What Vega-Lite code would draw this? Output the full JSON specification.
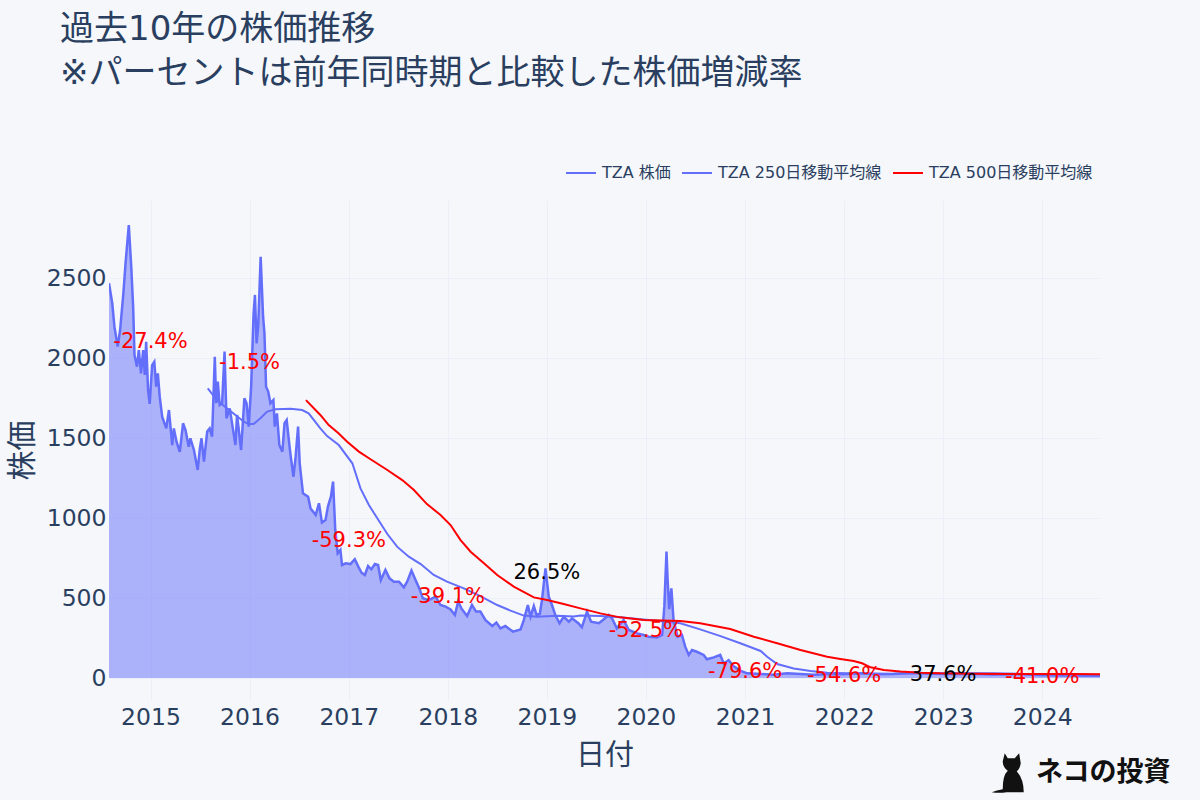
{"$schema":"https://vega.github.io/schema/vega-lite/v6.json","width":991,"height":500,"autosize":{"type":"none"},"padding":{"left":109,"top":200,"right":100,"bottom":100},"background":"#f5f7fb","config":{"view":{"stroke":null},"font":"DejaVu Sans, Noto Sans CJK JP"},
"title":{"text":["過去10年の株価推移","※パーセントは前年同時期と比較した株価増減率"],"anchor":"start","frame":"group","dx":-49,"offset":66,"fontSize":34,"lineHeight":44,"color":"#2a3f5f","fontWeight":"normal","font":"DejaVu Sans, Noto Sans CJK JP"},
"datasets":{
"price":[{"date":"2014-08-01","price":2467},{"date":"2014-08-13","price":2342},{"date":"2014-08-21","price":2196},{"date":"2014-09-02","price":2071},{"date":"2014-09-11","price":2175},{"date":"2014-09-23","price":2404},{"date":"2014-10-01","price":2592},{"date":"2014-10-13","price":2831},{"date":"2014-10-22","price":2571},{"date":"2014-10-29","price":2321},{"date":"2014-11-03","price":2019},{"date":"2014-11-12","price":1946},{"date":"2014-11-19","price":2050},{"date":"2014-11-27","price":1904},{"date":"2014-12-05","price":2050},{"date":"2014-12-11","price":1894},{"date":"2014-12-16","price":2102},{"date":"2014-12-23","price":1800},{"date":"2014-12-29","price":1713},{"date":"2015-01-07","price":1956},{"date":"2015-01-15","price":1977},{"date":"2015-01-22","price":1821},{"date":"2015-01-28","price":1904},{"date":"2015-02-04","price":1758},{"date":"2015-02-13","price":1633},{"date":"2015-02-28","price":1560},{"date":"2015-03-10","price":1675},{"date":"2015-03-22","price":1456},{"date":"2015-03-28","price":1560},{"date":"2015-04-07","price":1477},{"date":"2015-04-19","price":1414},{"date":"2015-05-01","price":1592},{"date":"2015-05-10","price":1550},{"date":"2015-05-22","price":1446},{"date":"2015-05-28","price":1498},{"date":"2015-06-10","price":1425},{"date":"2015-06-24","price":1300},{"date":"2015-07-02","price":1435},{"date":"2015-07-08","price":1498},{"date":"2015-07-17","price":1352},{"date":"2015-07-29","price":1540},{"date":"2015-08-07","price":1560},{"date":"2015-08-16","price":1508},{"date":"2015-08-26","price":2008},{"date":"2015-08-31","price":1717},{"date":"2015-09-06","price":1852},{"date":"2015-09-13","price":1706},{"date":"2015-09-22","price":1717},{"date":"2015-10-01","price":2040},{"date":"2015-10-08","price":1623},{"date":"2015-10-20","price":1685},{"date":"2015-11-10","price":1456},{"date":"2015-11-16","price":1644},{"date":"2015-12-01","price":1425},{"date":"2015-12-13","price":1748},{"date":"2015-12-21","price":1717},{"date":"2015-12-29","price":1571},{"date":"2016-01-07","price":1821},{"date":"2016-01-16","price":2279},{"date":"2016-01-21","price":2394},{"date":"2016-01-27","price":2092},{"date":"2016-02-02","price":2200},{"date":"2016-02-11","price":2633},{"date":"2016-02-20","price":2258},{"date":"2016-02-25","price":2154},{"date":"2016-03-02","price":1821},{"date":"2016-03-10","price":1790},{"date":"2016-03-18","price":1717},{"date":"2016-03-29","price":1737},{"date":"2016-04-03","price":1571},{"date":"2016-04-11","price":1654},{"date":"2016-04-20","price":1456},{"date":"2016-05-01","price":1414},{"date":"2016-05-09","price":1592},{"date":"2016-05-17","price":1612},{"date":"2016-05-27","price":1456},{"date":"2016-06-01","price":1383},{"date":"2016-06-11","price":1258},{"date":"2016-06-19","price":1383},{"date":"2016-06-28","price":1571},{"date":"2016-07-04","price":1342},{"date":"2016-07-16","price":1154},{"date":"2016-08-04","price":1133},{"date":"2016-08-13","price":1060},{"date":"2016-09-01","price":1019},{"date":"2016-09-13","price":1092},{"date":"2016-09-24","price":971},{"date":"2016-10-07","price":987},{"date":"2016-10-16","price":1071},{"date":"2016-10-27","price":1133},{"date":"2016-11-04","price":1227},{"date":"2016-11-12","price":925},{"date":"2016-11-21","price":779},{"date":"2016-12-01","price":800},{"date":"2016-12-07","price":706},{"date":"2016-12-20","price":717},{"date":"2017-01-07","price":712},{"date":"2017-01-23","price":742},{"date":"2017-02-05","price":696},{"date":"2017-02-17","price":658},{"date":"2017-03-01","price":644},{"date":"2017-03-13","price":700},{"date":"2017-03-25","price":679},{"date":"2017-04-07","price":712},{"date":"2017-04-19","price":706},{"date":"2017-04-29","price":612},{"date":"2017-05-16","price":675},{"date":"2017-05-31","price":623},{"date":"2017-06-16","price":602},{"date":"2017-07-05","price":602},{"date":"2017-07-23","price":567},{"date":"2017-08-04","price":602},{"date":"2017-08-20","price":671},{"date":"2017-09-04","price":612},{"date":"2017-09-18","price":560},{"date":"2017-10-01","price":498},{"date":"2017-10-23","price":487},{"date":"2017-11-17","price":508},{"date":"2017-12-05","price":456},{"date":"2017-12-24","price":446},{"date":"2018-01-11","price":429},{"date":"2018-01-27","price":394},{"date":"2018-02-08","price":477},{"date":"2018-02-20","price":435},{"date":"2018-03-13","price":387},{"date":"2018-03-31","price":456},{"date":"2018-04-15","price":415},{"date":"2018-05-01","price":415},{"date":"2018-05-20","price":362},{"date":"2018-06-14","price":325},{"date":"2018-06-29","price":346},{"date":"2018-07-14","price":310},{"date":"2018-08-01","price":325},{"date":"2018-08-17","price":304},{"date":"2018-08-29","price":290},{"date":"2018-09-26","price":304},{"date":"2018-10-08","price":362},{"date":"2018-10-23","price":456},{"date":"2018-11-02","price":383},{"date":"2018-11-14","price":450},{"date":"2018-11-24","price":394},{"date":"2018-12-06","price":400},{"date":"2018-12-14","price":487},{"date":"2018-12-27","price":685},{"date":"2019-01-08","price":508},{"date":"2019-01-20","price":456},{"date":"2019-02-01","price":394},{"date":"2019-02-17","price":342},{"date":"2019-03-04","price":383},{"date":"2019-03-23","price":352},{"date":"2019-04-04","price":373},{"date":"2019-04-27","price":342},{"date":"2019-05-10","price":317},{"date":"2019-05-29","price":415},{"date":"2019-06-13","price":352},{"date":"2019-07-12","price":342},{"date":"2019-07-30","price":367},{"date":"2019-08-17","price":394},{"date":"2019-08-29","price":373},{"date":"2019-09-16","price":310},{"date":"2019-10-11","price":362},{"date":"2019-10-30","price":300},{"date":"2019-11-30","price":279},{"date":"2019-12-24","price":269},{"date":"2020-01-11","price":258},{"date":"2020-02-11","price":254},{"date":"2020-03-01","price":269},{"date":"2020-03-09","price":446},{"date":"2020-03-17","price":790},{"date":"2020-03-21","price":620},{"date":"2020-03-27","price":430},{"date":"2020-04-04","price":560},{"date":"2020-04-12","price":362},{"date":"2020-04-27","price":258},{"date":"2020-05-13","price":269},{"date":"2020-05-25","price":196},{"date":"2020-06-07","price":144},{"date":"2020-06-19","price":175},{"date":"2020-07-07","price":164},{"date":"2020-08-01","price":144},{"date":"2020-08-13","price":117},{"date":"2020-09-07","price":129},{"date":"2020-10-01","price":144},{"date":"2020-10-14","price":91},{"date":"2020-11-01","price":112},{"date":"2020-11-19","price":75},{"date":"2020-12-14","price":46},{"date":"2021-01-08","price":29},{"date":"2021-02-27","price":25},{"date":"2021-04-15","price":21},{"date":"2021-06-05","price":29},{"date":"2021-07-24","price":25},{"date":"2021-09-10","price":21},{"date":"2021-10-30","price":23},{"date":"2022-01-11","price":25},{"date":"2022-03-01","price":29},{"date":"2022-05-01","price":24},{"date":"2022-07-01","price":25},{"date":"2022-09-15","price":35},{"date":"2022-11-15","price":27},{"date":"2023-01-15","price":25},{"date":"2023-04-01","price":26},{"date":"2023-07-01","price":22},{"date":"2023-10-20","price":24},{"date":"2024-01-01","price":17},{"date":"2024-04-15","price":16},{"date":"2024-08-01","price":14}],
"ma250":[{"date":"2015-07-31","ma250":1810},{"date":"2015-09-03","ma250":1737},{"date":"2015-10-10","ma250":1685},{"date":"2015-11-10","ma250":1644},{"date":"2015-12-11","ma250":1602},{"date":"2015-12-29","ma250":1587},{"date":"2016-01-16","ma250":1587},{"date":"2016-02-10","ma250":1623},{"date":"2016-03-06","ma250":1665},{"date":"2016-04-06","ma250":1679},{"date":"2016-06-01","ma250":1683},{"date":"2016-07-13","ma250":1675},{"date":"2016-08-06","ma250":1654},{"date":"2016-09-18","ma250":1560},{"date":"2016-10-13","ma250":1512},{"date":"2016-11-25","ma250":1456},{"date":"2017-01-14","ma250":1342},{"date":"2017-02-13","ma250":1185},{"date":"2017-03-16","ma250":1081},{"date":"2017-04-16","ma250":998},{"date":"2017-05-23","ma250":900},{"date":"2017-06-28","ma250":821},{"date":"2017-08-10","ma250":758},{"date":"2017-09-23","ma250":712},{"date":"2017-11-10","ma250":644},{"date":"2017-12-29","ma250":602},{"date":"2018-03-01","ma250":560},{"date":"2018-05-01","ma250":512},{"date":"2018-07-02","ma250":456},{"date":"2018-08-20","ma250":421},{"date":"2018-10-08","ma250":390},{"date":"2018-11-26","ma250":383},{"date":"2019-02-08","ma250":389},{"date":"2019-04-10","ma250":385},{"date":"2019-05-05","ma250":390},{"date":"2019-07-17","ma250":387},{"date":"2019-09-28","ma250":379},{"date":"2019-12-12","ma250":367},{"date":"2020-02-23","ma250":356},{"date":"2020-05-07","ma250":342},{"date":"2020-07-19","ma250":304},{"date":"2020-10-02","ma250":262},{"date":"2020-12-14","ma250":217},{"date":"2021-02-27","ma250":169},{"date":"2021-03-23","ma250":133},{"date":"2021-04-29","ma250":87},{"date":"2021-06-29","ma250":60},{"date":"2021-08-30","ma250":44},{"date":"2021-10-30","ma250":33},{"date":"2022-01-11","ma250":29},{"date":"2022-06-30","ma250":26},{"date":"2023-01-01","ma250":30},{"date":"2023-07-01","ma250":30},{"date":"2024-01-01","ma250":22},{"date":"2024-08-01","ma250":18}],
"ma500":[{"date":"2016-07-27","ma500":1737},{"date":"2016-09-18","ma500":1644},{"date":"2016-10-19","ma500":1581},{"date":"2016-11-24","ma500":1529},{"date":"2016-12-26","ma500":1477},{"date":"2017-02-07","ma500":1415},{"date":"2017-03-22","ma500":1367},{"date":"2017-05-23","ma500":1300},{"date":"2017-07-17","ma500":1237},{"date":"2017-08-29","ma500":1175},{"date":"2017-10-16","ma500":1087},{"date":"2017-12-05","ma500":1019},{"date":"2018-01-11","ma500":956},{"date":"2018-02-17","ma500":862},{"date":"2018-03-26","ma500":789},{"date":"2018-05-14","ma500":717},{"date":"2018-07-02","ma500":644},{"date":"2018-09-01","ma500":571},{"date":"2018-11-14","ma500":504},{"date":"2019-01-02","ma500":487},{"date":"2019-03-04","ma500":462},{"date":"2019-05-05","ma500":435},{"date":"2019-07-17","ma500":404},{"date":"2019-09-28","ma500":379},{"date":"2019-12-24","ma500":362},{"date":"2020-05-07","ma500":356},{"date":"2020-07-19","ma500":342},{"date":"2020-11-07","ma500":306},{"date":"2021-02-02","ma500":258},{"date":"2021-04-29","ma500":217},{"date":"2021-07-24","ma500":175},{"date":"2021-10-30","ma500":133},{"date":"2021-12-18","ma500":119},{"date":"2022-02-05","ma500":106},{"date":"2022-03-08","ma500":92},{"date":"2022-04-08","ma500":67},{"date":"2022-05-27","ma500":50},{"date":"2022-07-27","ma500":40},{"date":"2022-10-09","ma500":33},{"date":"2022-12-21","ma500":29},{"date":"2023-04-24","ma500":27},{"date":"2023-08-24","ma500":25},{"date":"2023-12-25","ma500":25},{"date":"2024-04-27","ma500":25},{"date":"2024-08-01","ma500":23}],
"labels":[{"date":"2015-01-01","y":2112,"label":"-27.4%","sign":"down"},{"date":"2016-01-01","y":1981,"label":"-1.5%","sign":"down"},{"date":"2017-01-01","y":869,"label":"-59.3%","sign":"down"},{"date":"2018-01-01","y":519,"label":"-39.1%","sign":"down"},{"date":"2019-01-01","y":669,"label":"26.5%","sign":"up"},{"date":"2020-01-01","y":306,"label":"-52.5%","sign":"down"},{"date":"2021-01-01","y":50,"label":"-79.6%","sign":"down"},{"date":"2022-01-01","y":25,"label":"-54.6%","sign":"down"},{"date":"2023-01-01","y":31,"label":"37.6%","sign":"up"},{"date":"2024-01-01","y":19,"label":"-41.0%","sign":"down"}]
},
"encoding":{"x":{"field":"date","type":"temporal","scale":{"domain":["2014-08-01","2024-08-01"]},"axis":{"title":"日付","format":"%Y","tickCount":{"interval":"year","step":1},"grid":true,"gridColor":"#ebf0f8","domain":false,"ticks":false,"labelFontSize":23.5,"labelColor":"#2a3f5f","labelPadding":5,"labelFont":"DejaVu Sans","titleFontSize":29,"titleColor":"#2a3f5f","titleFontWeight":"normal","titlePadding":13,"titleFont":"Noto Sans CJK JP","labelFlush":false}}},
"layer":[
{"data":{"name":"price"},"mark":{"type":"area","color":"#636efa","opacity":0.5,"clip":true},"encoding":{"y":{"field":"price","type":"quantitative","stack":null,"scale":{"domain":[-137.5,2987.5],"nice":false,"zero":false},"axis":{"title":"株価","format":"d","values":[0,500,1000,1500,2000,2500],"grid":true,"gridColor":"#ebf0f8","domain":false,"ticks":false,"labelFontSize":23.5,"labelColor":"#2a3f5f","labelPadding":3,"labelFont":"DejaVu Sans","titleFontSize":30,"titleColor":"#2a3f5f","titleFontWeight":"normal","titlePadding":9,"titleFont":"Noto Sans CJK JP"}}}},
{"data":{"name":"price"},"mark":{"type":"line","strokeWidth":2.5,"clip":true},"encoding":{"y":{"field":"price","type":"quantitative"},"color":{"datum":"TZA 株価","type":"nominal","scale":{"domain":["TZA 株価","TZA 250日移動平均線","TZA 500日移動平均線"],"range":["#636efa","#636efa","#ff0000"]},"legend":{"title":null,"orient":"none","legendX":456,"legendY":-43,"direction":"horizontal","symbolType":"stroke","symbolSize":900,"symbolStrokeWidth":2,"labelFontSize":16,"labelLimit":300,"labelColor":"#2a3f5f","labelFont":"DejaVu Sans, Noto Sans CJK JP","columnPadding":7,"labelOffset":5}}}},
{"data":{"name":"ma250"},"mark":{"type":"line","strokeWidth":2,"clip":true},"encoding":{"y":{"field":"ma250","type":"quantitative"},"color":{"datum":"TZA 250日移動平均線","type":"nominal"}}},
{"data":{"name":"ma500"},"mark":{"type":"line","strokeWidth":2,"clip":true},"encoding":{"y":{"field":"ma500","type":"quantitative"},"color":{"datum":"TZA 500日移動平均線","type":"nominal"}}},
{"data":{"name":"labels"},"mark":{"type":"text","fontSize":21,"font":"DejaVu Sans","baseline":"middle","align":"center","dy":2},"encoding":{"y":{"field":"y","type":"quantitative"},"text":{"field":"label"},"color":{"condition":{"test":"datum.sign==='up'","value":"#000000"},"value":"#ff0000"}}},
{"data":{"values":[{"date":"2024-08-13","y":-593,"label":"ネコの投資"}]},"mark":{"type":"text","fontSize":27,"font":"Noto Sans CJK JP","fontWeight":"bold","color":"#111111","baseline":"middle","align":"center"},"encoding":{"y":{"field":"y","type":"quantitative"},"text":{"field":"label"}}},
{"data":{"values":[{"date":"2023-09-07","y":-595}]},"mark":{"type":"point","filled":true,"opacity":1,"color":"#111111","size":1600,"shape":"M-0.3,-1 L-0.15,-0.75 L0.2,-0.75 L0.42,-1 L0.5,-0.5 Q0.45,-0.2 0.3,-0.1 Q0.65,0.3 0.65,0.95 L-0.2,0.95 Q-0.6,1 -0.95,0.95 Q-0.7,0.85 -0.4,0.8 Q-0.4,0.1 -0.15,-0.12 Q-0.4,-0.3 -0.4,-0.6 Z"},"encoding":{"y":{"field":"y","type":"quantitative"}}}
]}
